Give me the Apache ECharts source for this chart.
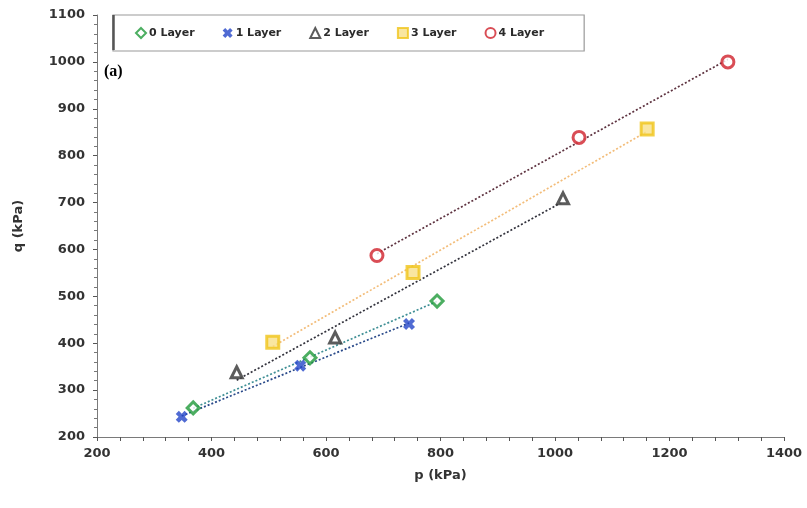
<!DOCTYPE html>
<html><head><meta charset="utf-8">
<script src="https://cdn.jsdelivr.net/npm/echarts@6/dist/echarts.min.js"></script>
<style>html,body{margin:0;padding:0;background:#fff}#c{width:807px;height:508px}</style>
</head><body><div id="c"></div>
<script>
// ---- data ----
const seriesNames = ['0 Layer','1 Layer','2 Layer','3 Layer','4 Layer'];
const p0 = [368, 572, 794];   const q0 = [262, 369, 490];
const p1 = [348, 555, 745];   const q1 = [243, 352, 441];
const p2 = [444, 616, 1014];  const q2 = [338, 412, 709];
const p3 = [507, 752, 1161];  const q3 = [402, 551, 857];
const p4 = [689, 1042, 1302]; const q4 = [587, 839, 1000];
const xTicks = [200, 400, 600, 800, 1000, 1200, 1400];
const yTicks = [200, 300, 400, 500, 600, 700, 800, 900, 1000, 1100];

const P = [p0,p1,p2,p3,p4], Q = [q0,q1,q2,q3,q4];
const markerColors = ['#1f9a3a','#2446c8','#333333','#f0c419','#d0202a'];
const trendColors  = ['#3f8f95','#2a4a8a','#33333d','#f3bd7a','#5e3340'];
const xPath = 'path://M0,2.6 L2.6,0 L5,2.4 L7.4,0 L10,2.6 L7.6,5 L10,7.4 L7.4,10 L5,7.6 L2.6,10 L0,7.4 L2.4,5 Z';
const symbols = ['diamond', xPath, 'triangle', 'rect', 'circle'];
const symSizes = [12, 12, 11, 12, 12];

function fit(xs, ys){
  const n = xs.length;
  const mx = xs.reduce((a,b)=>a+b,0)/n, my = ys.reduce((a,b)=>a+b,0)/n;
  let sxy=0, sxx=0;
  for(let i=0;i<n;i++){ sxy+=(xs[i]-mx)*(ys[i]-my); sxx+=(xs[i]-mx)*(xs[i]-mx); }
  const b = sxy/sxx, a = my - b*mx;
  const x0 = Math.min(...xs), x1 = Math.max(...xs);
  return [[x0, a+b*x0],[x1, a+b*x1]];
}

const series = [];
P.forEach((xs,i)=>{
  series.push({
    type:'line', data: fit(xs, Q[i]), showSymbol:false, silent:true, z:1,
    lineStyle:{color:trendColors[i], width:1.7, type:[2,2]}
  });
});
P.forEach((xs,i)=>{
  const filled = i===1;
  series.push({
    name: seriesNames[i], type:'scatter', z:3,
    data: xs.map((x,j)=>[x, Q[i][j]]),
    symbol: symbols[i], symbolSize: symSizes[i],
    itemStyle: filled ? {color: markerColors[i]} :
      {color: i===3 ? '#f7e08a' : '#ffffff', borderColor: markerColors[i], borderWidth: 3}
  });
});

const axisFont = {fontFamily:'DejaVu Sans', fontWeight:'bold', fontSize:13, color:'#333',
  formatter: v => String(v)};
const chart = echarts.init(document.getElementById('c'), null, {renderer:'canvas'});
chart.setOption({
  animation:false,
  backgroundColor:'#fff',
  grid:{left:97, right:23, top:15, bottom:71},
  legend:{
    data: seriesNames, left:113, top:15,
    padding:[12,40,12,22], itemGap:28, itemWidth:10, itemHeight:10,
    borderColor:'#9a9a9a', borderWidth:1.2, backgroundColor:'#fff',
    textStyle:{fontFamily:'DejaVu Sans', fontWeight:'bold', fontSize:11, color:'#2a2a2a', padding:[0,0,0,-2]}
  },
  xAxis:{
    type:'value', min:200, max:1400, interval:200,
    name:'p (kPa)', nameLocation:'middle', nameGap:32,
    nameTextStyle:{fontFamily:'DejaVu Sans', fontWeight:'bold', fontSize:13, color:'#333'},
    axisLine:{show:true, lineStyle:{color:'#7a7a7a', width:1}},
    axisTick:{show:true, inside:false, length:4, lineStyle:{color:'#555'}},
    minorTick:{show:true, splitNumber:5, length:4, lineStyle:{color:'#555'}},
    splitLine:{show:false},
    axisLabel:Object.assign({margin:10}, axisFont)
  },
  yAxis:{
    type:'value', min:200, max:1100, interval:100,
    name:'q (kPa)', nameLocation:'middle', nameGap:72, nameRotate:90,
    nameTextStyle:{fontFamily:'DejaVu Sans', fontWeight:'bold', fontSize:13, color:'#333'},
    axisLine:{show:true, lineStyle:{color:'#7a7a7a', width:1}},
    axisTick:{show:true, length:4, lineStyle:{color:'#555'}},
    minorTick:{show:true, splitNumber:5, length:3, lineStyle:{color:'#777'}},
    splitLine:{show:false},
    axisLabel:Object.assign({margin:12}, axisFont)
  },
  graphic:[
    {type:'text', left:104, top:64, style:{text:'(a)', font:'bold 16px "Liberation Serif"', fill:'#000'}},
    {type:'line', z:100, shape:{x1:113.5,y1:15,x2:113.5,y2:50}, style:{stroke:'#555', lineWidth:2.5}}
  ],
  series: series
});
</script></body></html>
